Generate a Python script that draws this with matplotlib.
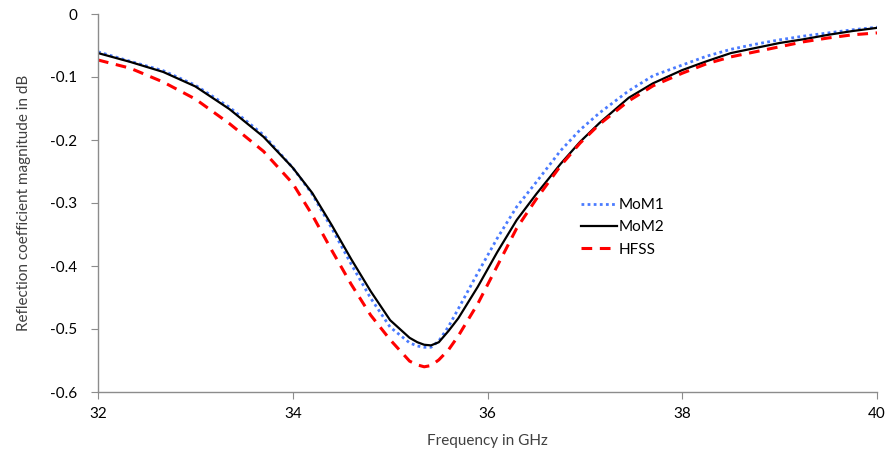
import matplotlib
matplotlib.use('Agg')
import matplotlib.pyplot as plt

plt.rcParams['font.family'] = ['Lato', 'DejaVu Sans']
plt.rcParams['axes.unicode_minus'] = False

# Frequency grid (GHz)
freq = [32.0, 32.33, 32.67, 33.0, 33.35, 33.7, 34.0, 34.2, 34.4, 34.6, 34.8,
        35.0, 35.2, 35.28, 35.35, 35.42, 35.5, 35.6, 35.7, 35.9, 36.1, 36.3,
        36.5, 36.75, 36.95, 37.15, 37.45, 37.7, 38.0, 38.25, 38.5, 38.75,
        39.0, 39.25, 39.5, 39.75, 40.0]

mom1 = [-0.060, -0.075, -0.090, -0.113, -0.148, -0.192, -0.244, -0.286, -0.340,
        -0.397, -0.451, -0.497, -0.522, -0.527, -0.529, -0.529, -0.519, -0.496,
        -0.468, -0.411, -0.356, -0.306, -0.267, -0.217, -0.184, -0.157, -0.122,
        -0.098, -0.081, -0.067, -0.056, -0.048, -0.041, -0.035, -0.030, -0.025,
        -0.021]

mom2 = [-0.062, -0.076, -0.092, -0.115, -0.151, -0.195, -0.244, -0.284, -0.335,
        -0.389, -0.440, -0.486, -0.514, -0.521, -0.525, -0.526, -0.521, -0.503,
        -0.483, -0.433, -0.378, -0.327, -0.286, -0.238, -0.203, -0.173, -0.133,
        -0.110, -0.089, -0.075, -0.062, -0.054, -0.046, -0.040, -0.033, -0.027,
        -0.022]

hfss = [-0.073, -0.086, -0.108, -0.135, -0.174, -0.218, -0.269, -0.319, -0.375,
        -0.429, -0.478, -0.517, -0.551, -0.557, -0.560, -0.558, -0.549, -0.533,
        -0.511, -0.460, -0.400, -0.340, -0.294, -0.241, -0.205, -0.175, -0.138,
        -0.114, -0.094, -0.079, -0.068, -0.060, -0.052, -0.044, -0.038, -0.033,
        -0.030]

x_ticks = [32, 34, 36, 38, 40]
y_ticks = [0, -0.1, -0.2, -0.3, -0.4, -0.5, -0.6]
y_tick_labels = ['0', '-0.1', '-0.2', '-0.3', '-0.4', '-0.5', '-0.6']

fig = plt.figure(figsize=(8.88, 4.58), dpi=100)
ax = fig.add_axes([98 / 888, 66 / 458, 779 / 888, 378 / 458])

ax.plot(freq, mom1, linestyle=(0, (1, 1.2)), linewidth=2.0, color='#4A7BFF', label='MoM1')
ax.plot(freq, mom2, linestyle='-', linewidth=1.6, color='black', label='MoM2')
ax.plot(freq, hfss, linestyle=(0, (3.5, 2.5)), linewidth=2.2, color='#FF0000', label='HFSS')

ax.set_xlim(32, 40)
ax.set_ylim(-0.6, 0)
ax.set_xticks(x_ticks)
ax.set_yticks(y_ticks)
ax.set_yticklabels(y_tick_labels)

for side in ['top', 'right']:
    ax.spines[side].set_visible(False)
for side in ['left', 'bottom']:
    ax.spines[side].set_color('#8c8c8c')
    ax.spines[side].set_linewidth(1.0)

ax.tick_params(axis='both', direction='out', length=5, color='#8c8c8c',
               labelsize=11, labelcolor='black')
ax.tick_params(axis='y', pad=10)
ax.tick_params(axis='x', pad=6)

ax.set_xlabel('Frequency in GHz', fontsize=11, color='#404040', labelpad=9)
ax.set_ylabel('Reflection coefficient magnitude in dB', fontsize=11, color='#404040', labelpad=14)

ax.legend(loc='upper left', bbox_to_anchor=(0.603, 0.55), frameon=False,
          fontsize=11, handlelength=2.3, handletextpad=0.15, labelspacing=0.55)

plt.savefig('out.png', dpi=100)
plt.close()
